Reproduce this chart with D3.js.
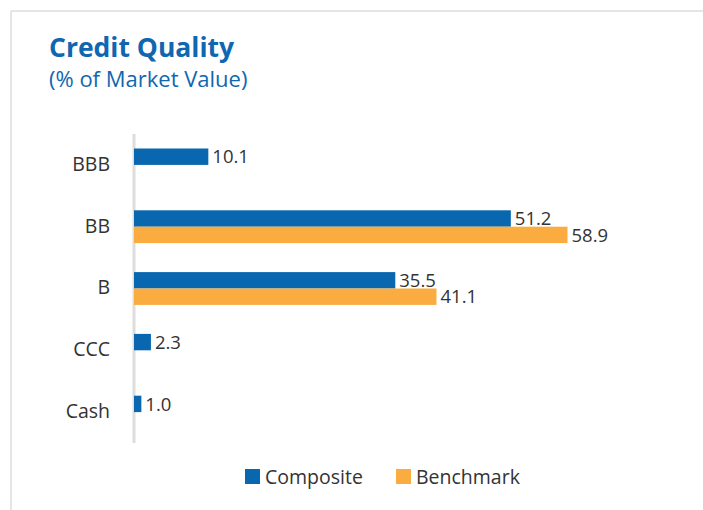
<!DOCTYPE html>
<html>
<head>
<meta charset="utf-8">
<script src="https://cdn.jsdelivr.net/npm/d3@7"></script>
<style>
  html, body { margin: 0; padding: 0; background: #fff; }
  svg { display: block; }
</style>
</head>
<body>
<svg id="chart" width="703" height="510"></svg>
<script>
const categories = ["BBB", "BB", "B", "CCC", "Cash"];
const seriesNames = ["Composite", "Benchmark"];
const composite = [10.1, 51.2, 35.5, 2.3, 1.0];
const benchmark = [null, 58.9, 41.1, null, null];
const colors = ["#0967b0", "#fbac41"];

const FONT = "'Open Sans', 'Noto Sans', sans-serif";
const svg = d3.select("#chart");

// frame (top and left rules)
svg.append("line").attr("x1", 11).attr("x2", 703).attr("y1", 11).attr("y2", 11)
  .attr("stroke", "#dcdcdc").attr("stroke-width", 1.5);
svg.append("line").attr("x1", 11).attr("x2", 11).attr("y1", 11).attr("y2", 510)
  .attr("stroke", "#dcdcdc").attr("stroke-width", 1.5);

// titles
svg.append("text").attr("x", 49).attr("y", 57)
  .attr("font-family", FONT).attr("font-weight", 700).attr("font-size", 26.5)
  .attr("fill", "#0f67b1").text("Credit Quality");
svg.append("text").attr("x", 49).attr("y", 87)
  .attr("font-family", FONT).attr("font-size", 22)
  .attr("fill", "#0f67b1").text("(% of Market Value)");

const x = d3.scaleLinear().domain([0, 60]).range([134, 575.6]);
const y = d3.scaleBand().domain(categories).range([134, 443]).padding(0);
const ySub = d3.scaleBand().domain(seriesNames).range([0, y.bandwidth()])
  .paddingInner(0).paddingOuter(0.884);

// axis line
svg.append("line").attr("x1", 134).attr("x2", 134)
  .attr("y1", y.range()[0]).attr("y2", y.range()[1])
  .attr("stroke", "#dddddd").attr("stroke-width", 3);

// category labels via axis
const yAxis = d3.axisLeft(y).tickSize(0).tickPadding(0);
const gAxis = svg.append("g").attr("transform", "translate(110,-1)").call(yAxis);
gAxis.select(".domain").remove();
gAxis.selectAll("text").attr("font-family", FONT).attr("font-size", 19.5)
  .attr("fill", "#333").attr("dy", "0.35em");

const rows = [];
categories.forEach((c, i) => {
  [composite[i], benchmark[i]].forEach((v, j) => {
    if (v !== null) rows.push({ cat: c, series: seriesNames[j], value: v, color: colors[j] });
  });
});

svg.append("g").selectAll("rect").data(rows).join("rect")
  .attr("x", x(0))
  .attr("y", d => y(d.cat) + ySub(d.series))
  .attr("width", d => x(d.value) - x(0))
  .attr("height", ySub.bandwidth())
  .attr("fill", d => d.color);

svg.append("g").selectAll("text").data(rows).join("text")
  .attr("x", d => x(d.value) + 4)
  .attr("y", d => y(d.cat) + ySub(d.series) + ySub.bandwidth() / 2)
  .attr("dy", "0.36em")
  .attr("font-family", FONT).attr("font-size", 18.5).attr("fill", "#333")
  .text(d => d.value.toFixed(1));

// legend
const legendX = [245, 396];
const leg = svg.append("g").selectAll("g").data(seriesNames).join("g")
  .attr("transform", (d, i) => `translate(${legendX[i]},469)`);
leg.append("rect").attr("width", 15).attr("height", 15).attr("fill", (d, i) => colors[i]);
leg.append("text").attr("x", 20).attr("y", 15)
  .attr("font-family", FONT).attr("font-size", 19.5).attr("fill", "#333")
  .text(d => d);
</script>
</body>
</html>
